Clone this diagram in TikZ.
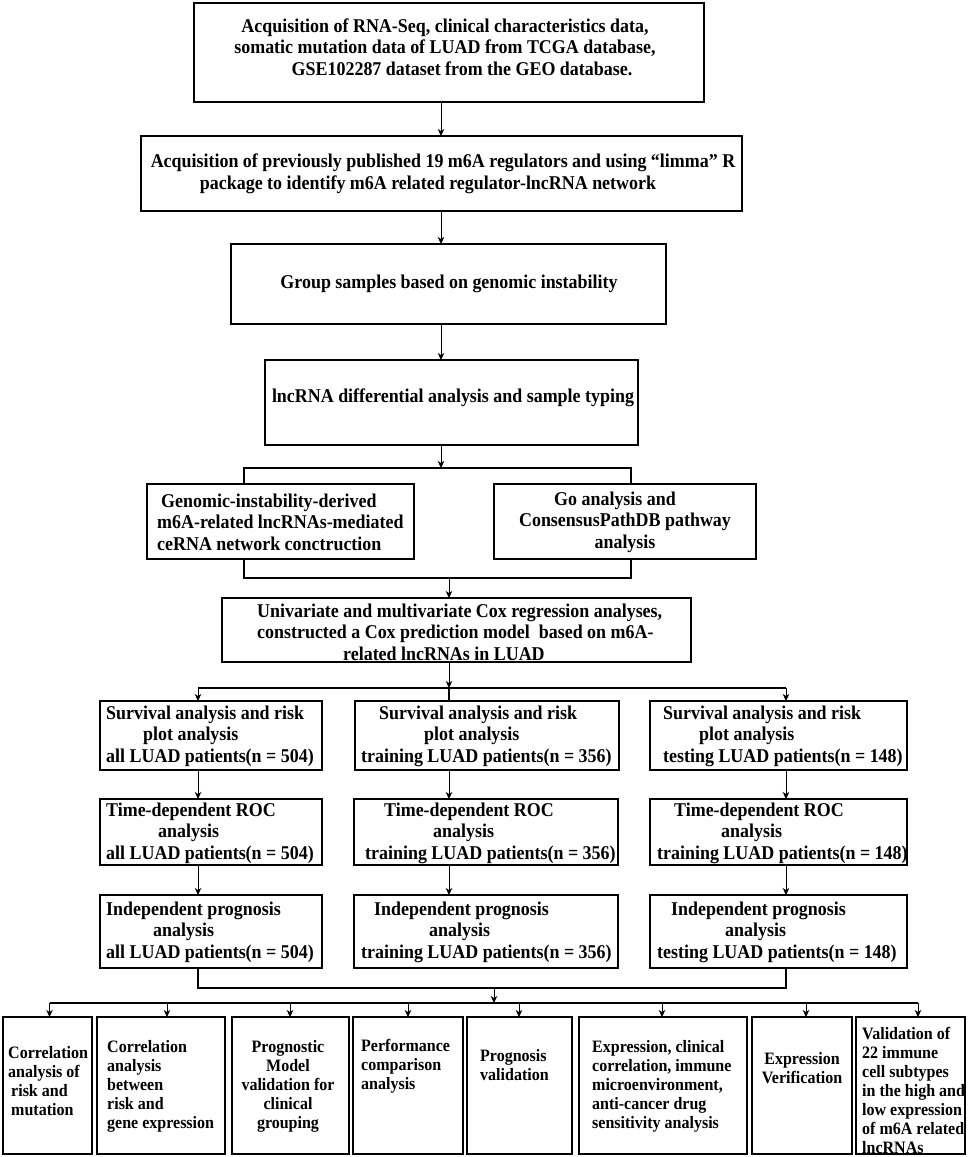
\documentclass[tikz,border=0pt]{standalone}
\usepackage{fontspec}
\setmainfont{Liberation Serif}[FakeStretch=0.92]
\usetikzlibrary{arrows.meta}
\begin{document}
\begin{tikzpicture}[x=1pt,y=-1pt,
  box/.style={draw, line width=2pt, inner sep=0pt, outer sep=0pt},
  txt/.style={font=\bfseries\fontsize{19.5}{21.5}\selectfont, inner sep=0pt, align=center},
  ltxt/.style={font=\bfseries\fontsize{19.5}{21.5}\selectfont, inner sep=0pt, align=left, anchor=west},
  stxt/.style={font=\bfseries\fontsize{17.4}{19}\selectfont, inner sep=0pt, align=center},
  lstxt/.style={font=\bfseries\fontsize{17.4}{19}\selectfont, inner sep=0pt, align=left, anchor=west},
  con/.style={line width=1.5pt},
  arr/.style={line width=1pt, -{Stealth[length=7pt,width=6.5pt,inset=2pt]}},
  bus/.style={line width=1.6pt}]
\useasboundingbox (0,0) rectangle (969,1157);
\newcommand\mybox[5]{\node[box, minimum width={(#4-#2)*1pt}, minimum height={(#5-#3)*1pt}] (#1) at ({(#2+#4)/2},{(#3+#5)/2}) {};}
% boxes
\mybox{b1}{194}{3}{704}{102}
\mybox{b2}{141}{136}{742}{211}
\mybox{b3}{231}{244}{666}{324}
\mybox{b4}{265}{360}{638}{445}
\mybox{b5}{147}{484}{414}{559}
\mybox{b6}{494}{484}{756}{559}
\mybox{b7}{222}{598}{691}{662}
\mybox{r1a}{100}{701}{322}{770}
\mybox{r1b}{355}{701}{619}{770}
\mybox{r1c}{650}{701}{907}{770}
\mybox{r2a}{100}{799}{322}{865}
\mybox{r2b}{354}{799}{618}{865}
\mybox{r2c}{650}{799}{907}{865}
\mybox{r3a}{100}{895}{322}{968}
\mybox{r3b}{354}{895}{618}{968}
\mybox{r3c}{650}{895}{907}{968}
\mybox{c1}{3}{1017}{92}{1154}
\mybox{c2}{97}{1017}{225}{1154}
\mybox{c3}{232}{1017}{349}{1154}
\mybox{c4}{353}{1017}{463}{1154}
\mybox{c5}{467}{1017}{572}{1154}
\mybox{c6}{579}{1017}{747}{1154}
\mybox{c7}{752}{1017}{852}{1154}
\mybox{c8}{856}{1017}{965}{1154}
% texts
\node[txt] (tb1) at (445,47) {Acquisition of RNA-Seq, clinical characteristics data,\\somatic mutation data of LUAD from TCGA database,\\\hspace*{34pt}GSE102287 dataset from the GEO database.};
\node[txt] (tb2) at (443,174) {Acquisition of previously published 19 m6A regulators and using “limma” R\\\hspace*{-30pt}package to identify m6A related regulator-lncRNA network};
\node[txt] (tb3) at (449,284) {Group samples based on genomic instability};
\node[txt] (tb4) at (453,398) {lncRNA differential analysis and sample typing};
\node[ltxt] (tb5) at (157,522) {\hspace*{4pt}Genomic-instability-derived\\m6A-related lncRNAs-mediated\\ceRNA network conctruction};
\node[txt] (tb6) at (625,522) {\hspace*{-20pt}Go analysis and\\ConsensusPathDB pathway\\analysis};
\node[ltxt] (tb7) at (257,632) {Univariate and multivariate Cox regression analyses,\\constructed a Cox prediction model\ \ based on m6A-\\\hspace*{86pt}related lncRNAs in LUAD};
\node[ltxt] (tr1a) at (106,736) {Survival analysis and risk\\\hspace*{37pt}plot analysis\\all LUAD patients(n = 504)};
\node[ltxt] (tr1b) at (361,736) {\hspace*{18pt}Survival analysis and risk\\\hspace*{63pt}plot analysis\\training LUAD patients(n = 356)};
\node[ltxt] (tr1c) at (663,736) {Survival analysis and risk\\\hspace*{36pt}plot analysis\\testing LUAD patients(n = 148)};
\node[ltxt] (tr2a) at (106,833) {Time-dependent ROC\\\hspace*{52pt}analysis\\all LUAD patients(n = 504)};
\node[ltxt] (tr2b) at (365,833) {\hspace*{19pt}Time-dependent ROC\\\hspace*{68pt}analysis\\training LUAD patients(n = 356)};
\node[ltxt] (tr2c) at (657,833) {\hspace*{17pt}Time-dependent ROC\\\hspace*{64pt}analysis\\training LUAD patients(n = 148)};
\node[ltxt] (tr3a) at (106,932) {Independent prognosis\\\hspace*{47pt}analysis\\all LUAD patients(n = 504)};
\node[ltxt] (tr3b) at (361,932) {\hspace*{13pt}Independent prognosis\\\hspace*{68pt}analysis\\training LUAD patients(n = 356)};
\node[ltxt] (tr3c) at (657,932) {\hspace*{14pt}Independent prognosis\\\hspace*{68pt}analysis\\testing LUAD patients(n = 148)};
\node[lstxt] (tc1) at (8,1081) {Correlation\\analysis of\\\hspace*{3pt}risk and\\\hspace*{3pt}mutation};
\node[lstxt] (tc2) at (107,1086) {Correlation\\analysis\\between\\risk and\\gene expression};
\node[stxt] (tc3) at (288,1086) {Prognostic\\Model\\validation for\\clinical\\grouping};
\node[lstxt] (tc4) at (361,1066) {Performance\\comparison\\analysis};
\node[lstxt] (tc5) at (480,1065) {Prognosis\\validation};
\node[lstxt] (tc6) at (592,1086) {Expression, clinical\\correlation, immune\\microenvironment,\\anti-cancer drug\\sensitivity analysis};
\node[stxt] (tc7) at (802,1068) {Expression\\Verification};
\node[lstxt] (tc8) at (862,1090) {Validation of\\22 immune\\cell subtypes\\in the high and\\low expression\\of m6A related\\lncRNAs};
% connector coordinates
\coordinate (mx) at (441,0);
\coordinate (s1) at (441,468);
\coordinate (s1l) at (244,468);
\coordinate (s1r) at (631,468);
\coordinate (m1) at (449,578);
\coordinate (m1l) at (244,578);
\coordinate (m1r) at (631,578);
\coordinate (p1) at (449,688);
\coordinate (p1l) at (198,688);
\coordinate (p1r) at (786,688);
\coordinate (q1) at (494,988);
\coordinate (q1l) at (198,988);
\coordinate (q1r) at (786,988);
\coordinate (q2) at (494,1003);
\coordinate (q2l) at (49.5,1003);
\coordinate (q2r) at (918,1003);
% connectors
\draw[arr] (b1.south -| mx) -- (b2.north -| mx);
\draw[arr] (b2.south -| mx) -- (b3.north -| mx);
\draw[arr] (b3.south -| mx) -- (b4.north -| mx);
\draw[arr] (b4.south -| s1) -- (s1);
\draw[con] (b5.north -| s1l) -- (s1l) -- (s1r) -- (b6.north -| s1r);
\draw[con] (b5.south -| m1l) -- (m1l) -- (m1r) -- (b6.south -| m1r);
\draw[arr] (m1) -- (b7.north -| m1);
\draw[arr] (b7.south -| p1) -- (p1);
\draw[bus] (p1l) -- (p1r);
\draw[bus] (p1) -- (r1b.north -| p1);
\draw[arr] (p1l) -- (r1a.north -| p1l);
\draw[arr] (p1r) -- (r1c.north -| p1r);
\draw[arr] (r1a.south -| p1l) -- (r2a.north -| p1l);
\draw[arr] (r1b.south -| p1) -- (r2b.north -| p1);
\draw[arr] (r1c.south -| p1r) -- (r2c.north -| p1r);
\draw[arr] (r2a.south -| p1l) -- (r3a.north -| p1l);
\draw[arr] (r2b.south -| p1) -- (r3b.north -| p1);
\draw[arr] (r2c.south -| p1r) -- (r3c.north -| p1r);
\draw[bus] (r3a.south -| q1l) -- (q1l) -- (q1r) -- (r3c.south -| q1r);
\draw[arr] (q1) -- (q2);
\draw[bus] (q2l) -- (q2r);
\foreach \n/\x in {c1/49.5, c2/167, c3/290, c4/408, c5/519, c6/662, c7/806, c8/918} {
  \coordinate (t\n) at (\x,1003);
  \draw[arr] (t\n) -- (\n.north -| t\n);
}
\end{tikzpicture}
\end{document}
